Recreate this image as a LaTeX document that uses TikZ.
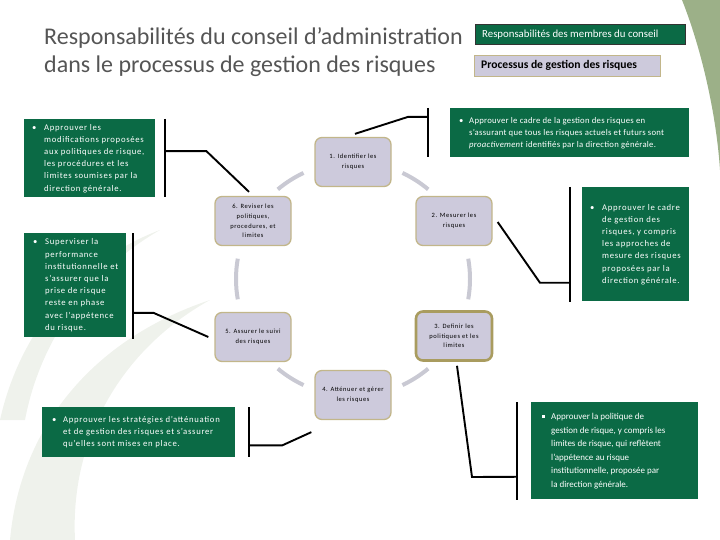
\documentclass[tikz,border=0pt]{standalone}
\usepackage{fontspec}
\setmainfont{Carlito}
\usetikzlibrary{calc}
\definecolor{gbox}{HTML}{0B6A45}
\definecolor{lav}{HTML}{CDCADC}
\definecolor{tanb}{HTML}{C2B68A}
\definecolor{tanc}{HTML}{A99C5F}
\definecolor{arcg}{HTML}{C9C9D3}
\definecolor{cornerg}{HTML}{9CB088}
\definecolor{swoosh}{HTML}{EFF2EC}
\definecolor{titlec}{HTML}{555555}
\newcommand\procfont{\fontsize{6.5}{9.7}\selectfont\addfontfeatures{LetterSpace=9}}
\newcommand\boxfont{\fontsize{8.7}{12.2}\selectfont\addfontfeatures{LetterSpace=8}}
\newcommand\boxfontC{\fontsize{8.7}{12}\selectfont\addfontfeatures{LetterSpace=3}}
\newcommand\boxfontF{\fontsize{9}{13.5}\selectfont}
% #1 total width, #2 bullet width, #3 rows (each row: & text)
\newcommand\blist[3]{\makebox[#1][l]{\begin{tabular}{@{}p{#2}@{}l@{}}\textbullet#3\end{tabular}}}
\newcommand\bsq{\rule[1.8pt]{2.6pt}{2.6pt}}
\begin{document}
\begin{tikzpicture}[x=1pt,y=-1pt,
  proc/.style={draw=tanb, line width=1.3pt, fill=lav, rounded corners=7pt, minimum width=76pt, minimum height=49pt, align=center, font=\procfont, inner sep=1pt},
  gb/.style={fill=gbox, text=white, inner sep=0pt, anchor=north west, font=\boxfont},
  conn/.style={line width=1.9pt, black},
  cyc/.style={line width=4pt, draw=arcg}]
\useasboundingbox (0,0) rectangle (720,540);
% background
\fill[swoosh] (10,540) .. controls (20,430) and (90,340) .. (210,300) .. controls (120,350) and (70,440) .. (75,540) -- cycle;
\fill[swoosh] (0,420) .. controls (20,330) and (80,260) .. (160,230) .. controls (90,270) and (40,340) .. (25,420) -- cycle;
\fill[cornerg] (682,0) .. controls (700,45) and (716,110) .. (720,170) -- (720,0) -- cycle;
% title
\node[anchor=base west, text=titlec, font=\fontsize{24}{28}\selectfont, inner sep=0pt] (t1) at (44,45) {Responsabilités du conseil d’administration};
\node[anchor=base west, text=titlec, font=\fontsize{24}{28}\selectfont, inner sep=0pt] (t2) at (44,73) {dans le processus de gestion des risques};
% legend
\node[draw=black!80, fill=gbox, text=white, minimum width=210pt, minimum height=20pt, anchor=north west, inner sep=0pt, font=\fontsize{10.8}{12}\selectfont] (l1) at (475,24) {\makebox[196pt][l]{Responsabilités des membres du conseil}};
\node[draw=tanb, fill=lav, minimum width=186pt, minimum height=21pt, anchor=north west, inner sep=0pt, font=\fontsize{11.6}{13}\selectfont\bfseries] (l2) at (474,55) {\makebox[172pt][l]{Processus de gestion des risques}};
% process nodes
\node[proc] (n1) at (353,162) {1. Identifier les\\risques};
\node[proc] (n2) at (454,221) {2. Mesurer les\\risques};
\node[proc, draw=tanc, line width=2.6pt] (n3) at (454,336) {3. Definir les\\politiques et les\\limites};
\node[proc] (n4) at (353,395) {4. Atténuer et gérer\\les risques};
\node[proc] (n5) at (253,337) {5. Assurer le suivi\\des risques};
\node[proc] (n6) at (253,221) {6. Reviser les\\politiques,\\procedures, et\\limites};
% cycle arcs
\coordinate (cc) at (353,279);
\foreach \a/\b in {-65/-50, -10/10, 50/65, 115/130, 170/190, 230/245}
  \draw[cyc] ($(cc)+(\a:117)$) arc[start angle=\a, end angle=\b, radius=117];
% green boxes
\node[gb, minimum width=131pt, minimum height=78pt] (gA) at (24,119) {\blist{115pt}{12pt}{&Approuver les\\&modifications proposées\\&aux politiques de risque,\\&les procédures et les\\&limites soumises par la\\&direction générale.}};
\node[gb, minimum width=102pt, minimum height=104pt] (gB) at (24,233) {\blist{84pt}{12pt}{&Superviser la\\&performance\\&institutionnelle et\\&s’assurer que la\\&prise de risque\\&reste en phase\\&avec l’appétence\\&du risque.}};
\node[gb, minimum width=239pt, minimum height=49pt, font=\boxfontC] (gC) at (450,108) {\blist{221pt}{10pt}{&Approuver le cadre de la gestion des risques en\\&s’assurant que tous les risques actuels et futurs sont\\&\textit{proactivement} identifiés par la direction générale.}};
\node[gb, minimum width=107pt, minimum height=114pt] (gD) at (582,187) {\blist{91pt}{12pt}{&Approuver le cadre\\&de gestion des\\&risques, y compris\\&les approches de\\&mesure des risques\\&proposées par la\\&direction générale.}};
\node[gb, minimum width=193pt, minimum height=50pt] (gE) at (42,407) {\blist{173pt}{11pt}{&Approuver les stratégies d’atténuation\\&et de gestion des risques et s’assurer\\&qu’elles sont mises en place.}};
\node[gb, minimum width=167pt, minimum height=97pt, font=\boxfontF] (gF) at (531,402) {\makebox[145pt][l]{\begin{tabular}{@{}p{9pt}@{}l@{}}\bsq&Approuver la politique de\\&gestion de risque, y compris les\\&limites de risque, qui reflètent\\&l’appétence au risque\\&institutionnelle, proposée par\\&la direction générale.\end{tabular}}};
% brackets and connectors
\coordinate (a1) at ($(gA.north east)+(10,0)$);
\coordinate (a2) at ($(gA.south east)+(10,0)$);
\draw[conn] (a1) -- (a2);
\draw[conn] ($(a1)!0.41!(a2)$) -- ++(41,0) -- ($(n6.north)+(-4,-4)$);
\coordinate (b1) at ($(gB.north east)+(7,0)$);
\coordinate (b2) at ($(gB.south east)+(7,2)$);
\draw[conn] (b1) -- (b2);
\draw[conn] ($(b1)!0.75!(b2)$) -- ++(20,0) -- ($(n5.west)+(-6,0)$);
\coordinate (c1) at ($(gC.north west)+(-22,0)$);
\coordinate (c2) at ($(gC.south west)+(-22,0)$);
\draw[conn] (c1) -- (c2);
\draw[conn] ($(c1)!0.18!(c2)$) -- ++(-20,0) -- ($(n1.north)+(2,-3)$);
\coordinate (d1) at ($(gD.north west)+(-12,0)$);
\coordinate (d2) at ($(gD.south west)+(-12,1)$);
\draw[conn] (d1) -- (d2);
\draw[conn] ($(d1)!0.83!(d2)$) -- ++(-30,0) -- ($(n2.east)+(5,1)$);
\coordinate (e1) at ($(gE.north east)+(14,0)$);
\coordinate (e2) at ($(gE.south east)+(14,0)$);
\draw[conn] (e1) -- (e2);
\draw[conn] ($(e1)!0.76!(e2)$) -- ++(33,0) -- ($(n4.south west)+(-3,12)$);
\coordinate (f1) at ($(gF.north west)+(-14,0)$);
\coordinate (f2) at ($(gF.south west)+(-14,1)$);
\draw[conn] (f1) -- (f2);
\draw[conn] ($(n3.south)+(3,4)$) -- (472,477) -- ($(f1)!0.76!(f2)$);
\end{tikzpicture}
\end{document}
